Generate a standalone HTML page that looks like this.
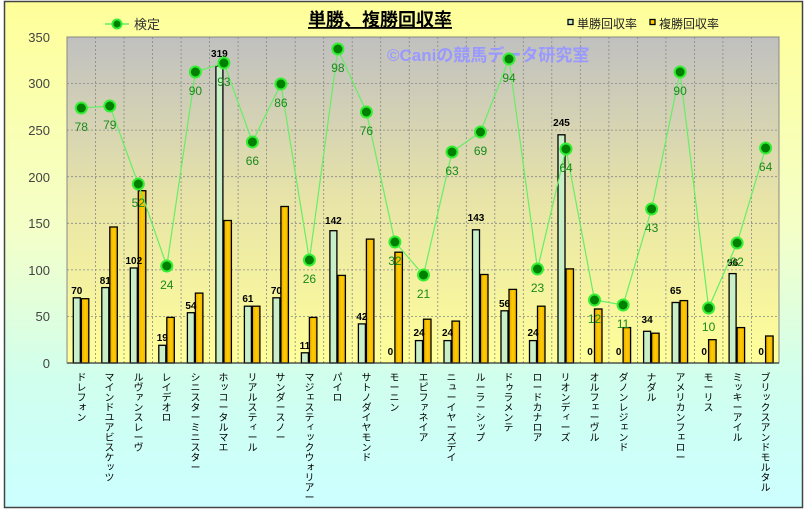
<!DOCTYPE html>
<html><head><meta charset="utf-8"><style>
body{margin:0;width:804px;height:509px;overflow:hidden;background:#fff;position:relative}
svg{display:block;font-family:"Liberation Sans","Noto Sans CJK JP",sans-serif}
.xl{position:absolute;top:372px;writing-mode:vertical-rl;text-orientation:mixed;font-size:10px;line-height:11px;width:11px;color:#000;font-family:"Noto Sans CJK JP","IPAGothic",sans-serif;white-space:nowrap}
.xl i{font-style:normal;display:inline-block;transform:rotate(90deg)}
.bl{font-size:10px;font-weight:bold;fill:#000;text-anchor:middle}
.ll{font-size:12px;fill:#1a8a1a;text-anchor:middle}
.s{fill:#c8efc8;stroke:#000;stroke-width:1.3}
.d{fill:url(#gd);stroke:#000;stroke-width:1.3}
.m{fill:#008000;stroke:#33ee33;stroke-width:2}
</style></head><body>
<svg width="804" height="509" viewBox="0 0 804 509">
<defs>
<linearGradient id="gbg" x1="0" y1="0" x2="0" y2="1"><stop offset="0" stop-color="#ffff99"/><stop offset="0.45" stop-color="#f4ffc8"/><stop offset="0.75" stop-color="#d0ffee"/><stop offset="1" stop-color="#ccffff"/></linearGradient>
<linearGradient id="gp" x1="0" y1="0" x2="0" y2="1"><stop offset="0" stop-color="#c0c0c0"/><stop offset="0.5" stop-color="#e8e4a8"/><stop offset="1" stop-color="#ffff99"/></linearGradient>
<linearGradient id="gd" x1="0" y1="0" x2="1" y2="0"><stop offset="0" stop-color="#e8a800"/><stop offset="0.5" stop-color="#ffcc00"/><stop offset="1" stop-color="#f0b000"/></linearGradient>
</defs>
<rect x="4.5" y="1.5" width="798" height="506" fill="url(#gbg)" stroke="#444" stroke-width="1.5"/>
<rect x="67" y="37" width="712" height="326" fill="url(#gp)" stroke="#888" stroke-width="1"/>
<g stroke="#888" stroke-width="0.8" stroke-dasharray="2,2">
<line x1="67" x2="779" y1="316.4" y2="316.4"/><line x1="67" x2="779" y1="269.9" y2="269.9"/><line x1="67" x2="779" y1="223.3" y2="223.3"/><line x1="67" x2="779" y1="176.7" y2="176.7"/><line x1="67" x2="779" y1="130.1" y2="130.1"/><line x1="67" x2="779" y1="83.6" y2="83.6"/>
<line x1="95.5" x2="95.5" y1="37" y2="363"/><line x1="124" x2="124" y1="37" y2="363"/><line x1="152.6" x2="152.6" y1="37" y2="363"/><line x1="181.1" x2="181.1" y1="37" y2="363"/><line x1="209.6" x2="209.6" y1="37" y2="363"/><line x1="238.1" x2="238.1" y1="37" y2="363"/><line x1="266.6" x2="266.6" y1="37" y2="363"/><line x1="295.2" x2="295.2" y1="37" y2="363"/><line x1="323.7" x2="323.7" y1="37" y2="363"/><line x1="352.2" x2="352.2" y1="37" y2="363"/><line x1="380.7" x2="380.7" y1="37" y2="363"/><line x1="409.2" x2="409.2" y1="37" y2="363"/><line x1="437.8" x2="437.8" y1="37" y2="363"/><line x1="466.3" x2="466.3" y1="37" y2="363"/><line x1="494.8" x2="494.8" y1="37" y2="363"/><line x1="523.3" x2="523.3" y1="37" y2="363"/><line x1="551.8" x2="551.8" y1="37" y2="363"/><line x1="580.3" x2="580.3" y1="37" y2="363"/><line x1="608.9" x2="608.9" y1="37" y2="363"/><line x1="637.4" x2="637.4" y1="37" y2="363"/><line x1="665.9" x2="665.9" y1="37" y2="363"/><line x1="694.4" x2="694.4" y1="37" y2="363"/><line x1="722.9" x2="722.9" y1="37" y2="363"/><line x1="751.5" x2="751.5" y1="37" y2="363"/>
</g>
<g font-size="13" fill="#444" text-anchor="end">
<text x="50" y="368">0</text><text x="50" y="321">50</text><text x="50" y="275">100</text><text x="50" y="228">150</text><text x="50" y="182">200</text><text x="50" y="135">250</text><text x="50" y="88">300</text><text x="50" y="42">350</text>
</g>
<text x="387" y="61" font-size="17" font-weight="bold" fill="#9999ff">©Caniの競馬データ研究室</text>
<text x="380" y="26" font-size="18" font-weight="bold" text-anchor="middle" text-decoration="underline" fill="#000">単勝、複勝回収率</text>
<line x1="105" x2="129" y1="24" y2="24" stroke="#66ee66" stroke-width="1.5"/><circle cx="117" cy="24" r="4.5" class="m"/>
<text x="134" y="29" font-size="13" fill="#333">検定</text>
<rect x="568" y="19.5" width="5" height="5" fill="#c8efc8" stroke="#000" stroke-width="1.3"/><text x="577" y="28" font-size="12" fill="#222">単勝回収率</text>
<rect x="650" y="19.5" width="5" height="5" fill="#ffcc00" stroke="#000" stroke-width="1.3"/><text x="659" y="28" font-size="12" fill="#222">複勝回収率</text>
<g>
<rect class="s" x="73.3" y="297.8" width="7" height="65.2"/><rect class="d" x="81.3" y="298.7" width="7.5" height="64.3"/>
<rect class="s" x="101.8" y="287.6" width="7" height="75.4"/><rect class="d" x="109.8" y="227" width="7.5" height="136"/>
<rect class="s" x="130.3" y="268" width="7" height="95"/><rect class="d" x="138.3" y="190.7" width="7.5" height="172.3"/>
<rect class="s" x="158.8" y="345.3" width="7" height="17.7"/><rect class="d" x="166.8" y="317.4" width="7.5" height="45.6"/>
<rect class="s" x="187.4" y="312.7" width="7" height="50.3"/><rect class="d" x="195.4" y="293.1" width="7.5" height="69.9"/>
<rect class="s" x="215.9" y="65.9" width="7" height="297.1"/><rect class="d" x="223.9" y="220.5" width="7.5" height="142.5"/>
<rect class="s" x="244.4" y="306.2" width="7" height="56.8"/><rect class="d" x="252.4" y="306.2" width="7.5" height="56.8"/>
<rect class="s" x="272.9" y="297.8" width="7" height="65.2"/><rect class="d" x="280.9" y="206.5" width="7.5" height="156.5"/>
<rect class="s" x="301.4" y="352.8" width="7" height="10.2"/><rect class="d" x="309.4" y="317.4" width="7.5" height="45.6"/>
<rect class="s" x="329.9" y="230.7" width="7" height="132.3"/><rect class="d" x="337.9" y="275.4" width="7.5" height="87.6"/>
<rect class="s" x="358.4" y="323.9" width="7" height="39.1"/><rect class="d" x="366.4" y="239.1" width="7.5" height="123.9"/>
<rect class="d" x="394.9" y="252.2" width="7.5" height="110.8"/>
<rect class="s" x="415.5" y="340.6" width="7" height="22.4"/><rect class="d" x="423.5" y="319.2" width="7.5" height="43.8"/>
<rect class="s" x="444" y="340.6" width="7" height="22.4"/><rect class="d" x="452" y="321.1" width="7.5" height="41.9"/>
<rect class="s" x="472.5" y="229.8" width="7" height="133.2"/><rect class="d" x="480.5" y="274.5" width="7.5" height="88.5"/>
<rect class="s" x="501" y="310.8" width="7" height="52.2"/><rect class="d" x="509" y="289.4" width="7.5" height="73.6"/>
<rect class="s" x="529.5" y="340.6" width="7" height="22.4"/><rect class="d" x="537.5" y="306.2" width="7.5" height="56.8"/>
<rect class="s" x="558" y="134.8" width="7" height="228.2"/><rect class="d" x="566" y="268.9" width="7.5" height="94.1"/>
<rect class="d" x="594.5" y="309" width="7.5" height="54"/>
<rect class="d" x="623.1" y="327.6" width="7.5" height="35.4"/>
<rect class="s" x="643.6" y="331.3" width="7" height="31.7"/><rect class="d" x="651.6" y="333.2" width="7.5" height="29.8"/>
<rect class="s" x="672.1" y="302.5" width="7" height="60.5"/><rect class="d" x="680.1" y="300.6" width="7.5" height="62.4"/>
<rect class="d" x="708.6" y="339.7" width="7.5" height="23.3"/>
<rect class="s" x="729.1" y="273.6" width="7" height="89.4"/><rect class="d" x="737.1" y="327.6" width="7.5" height="35.4"/>
<rect class="d" x="765.6" y="336" width="7.5" height="27"/>
</g>
<line x1="67" x2="779" y1="363" y2="363" stroke="#333" stroke-width="1.2"/>
<line x1="67" x2="67" y1="37" y2="363" stroke="#888" stroke-width="1"/>
<g>
<text class="bl" x="76.8" y="294">70</text><text class="bl" x="105.3" y="284">81</text><text class="bl" x="133.8" y="264">102</text><text class="bl" x="162.3" y="341">19</text><text class="bl" x="190.9" y="309">54</text><text class="bl" x="219.4" y="57">319</text><text class="bl" x="247.9" y="302">61</text><text class="bl" x="276.4" y="294">70</text><text class="bl" x="304.9" y="349">11</text><text class="bl" x="333.4" y="224">142</text><text class="bl" x="361.9" y="320">42</text><text class="bl" x="390.4" y="355">0</text><text class="bl" x="419" y="336">24</text><text class="bl" x="447.5" y="336">24</text><text class="bl" x="476" y="221">143</text><text class="bl" x="504.5" y="307">56</text><text class="bl" x="533" y="336">24</text><text class="bl" x="561.5" y="126">245</text><text class="bl" x="590" y="355">0</text><text class="bl" x="618.6" y="355">0</text><text class="bl" x="647.1" y="323">34</text><text class="bl" x="675.6" y="294">65</text><text class="bl" x="704.1" y="355">0</text><text class="bl" x="732.6" y="266">96</text><text class="bl" x="761.1" y="355">0</text>
</g>
<polyline fill="none" stroke="#66ee66" stroke-width="1.2" points="81.3,108 109.8,106 138.3,184 166.8,266 195.4,72 223.9,63 252.4,142 280.9,84 309.4,260 337.9,49 366.4,112 394.9,242 423.5,275 452,152 480.5,132 509,59 537.5,269 566,149 594.5,300 623.1,305 651.6,209 680.1,72 708.6,308 737.1,243 765.6,148"/>
<g>
<circle class="m" r="5.5" cx="81.3" cy="108"/><circle class="m" r="5.5" cx="109.8" cy="106"/><circle class="m" r="5.5" cx="138.3" cy="184"/><circle class="m" r="5.5" cx="166.8" cy="266"/><circle class="m" r="5.5" cx="195.4" cy="72"/><circle class="m" r="5.5" cx="223.9" cy="63"/><circle class="m" r="5.5" cx="252.4" cy="142"/><circle class="m" r="5.5" cx="280.9" cy="84"/><circle class="m" r="5.5" cx="309.4" cy="260"/><circle class="m" r="5.5" cx="337.9" cy="49"/><circle class="m" r="5.5" cx="366.4" cy="112"/><circle class="m" r="5.5" cx="394.9" cy="242"/><circle class="m" r="5.5" cx="423.5" cy="275"/><circle class="m" r="5.5" cx="452" cy="152"/><circle class="m" r="5.5" cx="480.5" cy="132"/><circle class="m" r="5.5" cx="509" cy="59"/><circle class="m" r="5.5" cx="537.5" cy="269"/><circle class="m" r="5.5" cx="566" cy="149"/><circle class="m" r="5.5" cx="594.5" cy="300"/><circle class="m" r="5.5" cx="623.1" cy="305"/><circle class="m" r="5.5" cx="651.6" cy="209"/><circle class="m" r="5.5" cx="680.1" cy="72"/><circle class="m" r="5.5" cx="708.6" cy="308"/><circle class="m" r="5.5" cx="737.1" cy="243"/><circle class="m" r="5.5" cx="765.6" cy="148"/>
</g>
<g>
<text class="ll" x="81.3" y="131">78</text><text class="ll" x="109.8" y="129">79</text><text class="ll" x="138.3" y="207">52</text><text class="ll" x="166.8" y="289">24</text><text class="ll" x="195.4" y="95">90</text><text class="ll" x="223.9" y="86">93</text><text class="ll" x="252.4" y="165">66</text><text class="ll" x="280.9" y="107">86</text><text class="ll" x="309.4" y="283">26</text><text class="ll" x="337.9" y="72">98</text><text class="ll" x="366.4" y="135">76</text><text class="ll" x="394.9" y="265">32</text><text class="ll" x="423.5" y="298">21</text><text class="ll" x="452" y="175">63</text><text class="ll" x="480.5" y="155">69</text><text class="ll" x="509" y="82">94</text><text class="ll" x="537.5" y="292">23</text><text class="ll" x="566" y="172">64</text><text class="ll" x="594.5" y="323">12</text><text class="ll" x="623.1" y="328">11</text><text class="ll" x="651.6" y="232">43</text><text class="ll" x="680.1" y="95">90</text><text class="ll" x="708.6" y="331">10</text><text class="ll" x="737.1" y="266">92</text><text class="ll" x="765.6" y="171">64</text>
</g>
</svg>
<div class="xl" style="left:76px">ドレフォン</div>
<div class="xl" style="left:104px">マインドユアビスケッツ</div>
<div class="xl" style="left:133px">ルヴァンスレ<i>ー</i>ヴ</div>
<div class="xl" style="left:161px">レイデオロ</div>
<div class="xl" style="left:190px">シニスタ<i>ー</i>ミニスタ<i>ー</i></div>
<div class="xl" style="left:218px">ホッコ<i>ー</i>タルマエ</div>
<div class="xl" style="left:247px">リアルスティ<i>ー</i>ル</div>
<div class="xl" style="left:275px">サンダ<i>ー</i>スノ<i>ー</i></div>
<div class="xl" style="left:304px">マジェスティックウォリア<i>ー</i></div>
<div class="xl" style="left:332px">パイロ</div>
<div class="xl" style="left:361px">サトノダイヤモンド</div>
<div class="xl" style="left:389px">モ<i>ー</i>ニン</div>
<div class="xl" style="left:418px">エピファネイア</div>
<div class="xl" style="left:446px">ニュ<i>ー</i>イヤ<i>ー</i>ズデイ</div>
<div class="xl" style="left:475px">ル<i>ー</i>ラ<i>ー</i>シップ</div>
<div class="xl" style="left:503px">ドゥラメンテ</div>
<div class="xl" style="left:532px">ロ<i>ー</i>ドカナロア</div>
<div class="xl" style="left:560px">リオンディ<i>ー</i>ズ</div>
<div class="xl" style="left:589px">オルフェ<i>ー</i>ヴル</div>
<div class="xl" style="left:618px">ダノンレジェンド</div>
<div class="xl" style="left:646px">ナダル</div>
<div class="xl" style="left:675px">アメリカンフェロ<i>ー</i></div>
<div class="xl" style="left:703px">モ<i>ー</i>リス</div>
<div class="xl" style="left:732px">ミッキ<i>ー</i>アイル</div>
<div class="xl" style="left:760px">ブリックスアンドモルタル</div>
</body></html>
